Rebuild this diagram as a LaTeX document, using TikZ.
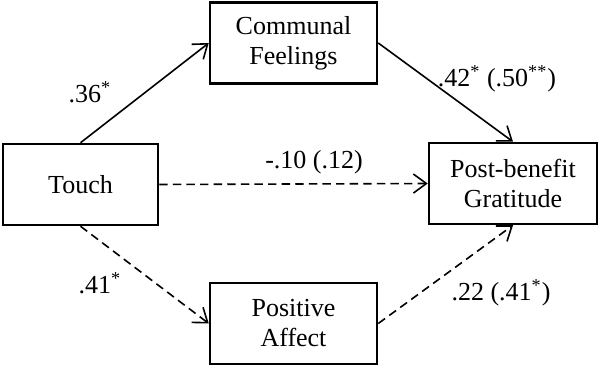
\documentclass[tikz,border=0pt]{standalone}
\usepackage{fontspec}
\setmainfont{Liberation Serif}
\usetikzlibrary{arrows.meta}
\begin{document}
\begin{tikzpicture}[x=0.5pt,y=-0.5pt,
  txt/.style={font=\fontsize{13}{15}\selectfont},
  box/.style={txt,draw,line width=1.25pt,align=center,inner sep=0pt,minimum width=83.5pt,minimum height=40.5pt},
  conn/.style={line width=0.8pt,-{Straight Barb[length=6.5pt,width=9.5pt,line width=0.8pt]}},
  dconn/.style={conn,dash pattern=on 4.2pt off 2.6pt}]
\useasboundingbox (0,0) rectangle (600,368);
\node[box,minimum width=77.5pt] (touch) at (80.5,184.5) {Touch};
\node[box] (comm) at (293.5,43) {Communal\\Feelings};
\node[box,minimum width=84pt] (grat) at (513,183.5) {Post-benefit\\Gratitude};
\node[box] (pos) at (293.5,323.5) {Positive\\Affect};
\draw[conn] (touch.north) -- (comm.west);
\draw[conn] (comm.east) -- (grat.north);
\draw[dconn] (touch.east) -- (grat.west);
\draw[dconn] (touch.south) -- (pos.west);
\draw[dconn] (pos.east) -- (grat.south);
\node[txt] (l1) at (90,92) {.36\textsuperscript{*}};
\node[txt] (l2) at (314,162) {-.10 (.12)};
\node[txt] (l3) at (497,79) {.42\textsuperscript{*} (.50\textsuperscript{**})};
\node[txt] (l4) at (100,283) {.41\textsuperscript{*}};
\node[txt] (l5) at (501,293) {.22 (.41\textsuperscript{*})};
\end{tikzpicture}
\end{document}
